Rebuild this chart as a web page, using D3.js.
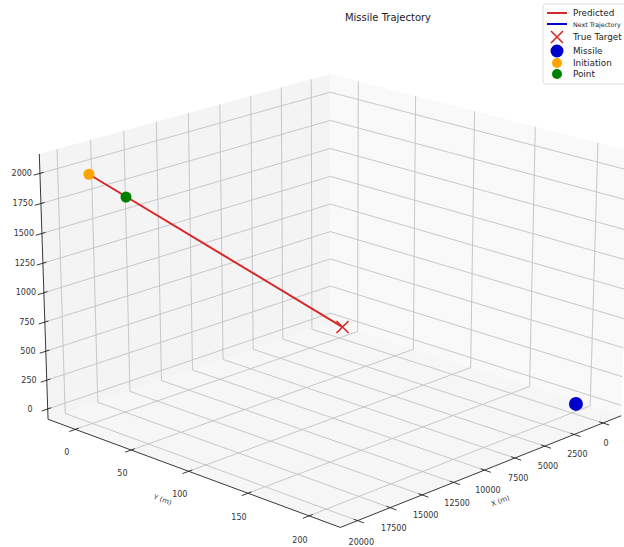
<!DOCTYPE html>
<html>
<head>
<meta charset="UTF-8">
<script src="https://cdn.jsdelivr.net/npm/d3@7"></script>
<style>
  body { margin: 0; background: #ffffff; }
  text { font-family: "DejaVu Sans", sans-serif; }
</style>
</head>
<body>
<div id="container"></div>
<script>
// ---- data ----
const xTicks = [0, 2500, 5000, 7500, 10000, 12500, 15000, 17500, 20000];
const yTicks = [0, 50, 100, 150, 200];
const zTicks = [0, 250, 500, 750, 1000, 1250, 1500, 1750, 2000];

// predicted trajectory (x, y, z)
const predictedX = [20000, 0];
const predictedY = [3, 3];
const predictedZ = [2030, 20];

const targetPos = [0, 3, 20];
const missilePos = [0, 203, 0];
const initiationPos = [20000, 3, 2030];
const pointPos = [17300, 3, 1755];

const legendLabels = ["Predicted", "Next Trajectory", "True Target", "Missile", "Initiation", "Point"];

// ---- 3d view (like matplotlib mplot3d, perspective) ----
const width = 624, height = 547;
const elev = 20.5, azim = 44, dist = 10;
const X0 = -1600, X1 = 21300, Y0 = -25, Y1 = 225, Z0 = -90, Z1 = 2160;

const n = Math.hypot(4, 4, 3);
const box = [4, 4, 3].map(d => d * 1.8294640721620434 / n);
const xs = d3.scaleLinear().domain([X0, X1]).range([0, box[0]]);
const ys = d3.scaleLinear().domain([Y0, Y1]).range([0, box[1]]);
const zs = d3.scaleLinear().domain([Z0, Z1]).range([0, box[2]]);

const e = elev * Math.PI / 180, a = azim * Math.PI / 180;
const w = [Math.cos(e) * Math.cos(a), Math.cos(e) * Math.sin(a), Math.sin(e)];
const u = [-Math.sin(a), Math.cos(a), 0];
const v = [-Math.sin(e) * Math.cos(a), -Math.sin(e) * Math.sin(a), Math.cos(e)];

const sx = d3.scaleLinear().domain([0, 1]).range([335, 335 + 3600]);
const sy = d3.scaleLinear().domain([0, 1]).range([287, 287 - 3300]);

function project([x, y, z]) {
  const p = [xs(x) - box[0] / 2, ys(y) - box[1] / 2, zs(z) - box[2] / 2];
  const dot = q => q[0] * p[0] + q[1] * p[1] + q[2] * p[2];
  const depth = dist - dot(w);
  return [sx(dot(u) / depth), sy(dot(v) / depth)];
}

const line = d3.line().x(d => project(d)[0]).y(d => project(d)[1]);

const svg = d3.select("#container").append("svg")
  .attr("width", width).attr("height", height);

// panes
const panes = [
  { pts: [[X0, Y0, Z0], [X1, Y0, Z0], [X1, Y0, Z1], [X0, Y0, Z1]], fill: "#f4f4f4" },
  { pts: [[X0, Y0, Z0], [X0, Y1, Z0], [X0, Y1, Z1], [X0, Y0, Z1]], fill: "#f9f9f9" },
  { pts: [[X0, Y0, Z0], [X1, Y0, Z0], [X1, Y1, Z0], [X0, Y1, Z0]], fill: "#f6f6f6" }
];
svg.append("g").selectAll("path").data(panes).join("path")
  .attr("d", d => line(d.pts) + "Z")
  .attr("fill", d => d.fill)
  .attr("stroke", "none");

// grid
const grid = svg.append("g").attr("fill", "none").attr("stroke", "#c2c2c2").attr("stroke-width", 0.9);
xTicks.forEach(t => grid.append("path").attr("d", line([[t, Y1, Z0], [t, Y0, Z0], [t, Y0, Z1]])));
yTicks.forEach(t => grid.append("path").attr("d", line([[X1, t, Z0], [X0, t, Z0], [X0, t, Z1]])));
zTicks.forEach(t => grid.append("path").attr("d", line([[X1, Y0, t], [X0, Y0, t], [X0, Y1, t]])));

// axis lines
const axes = svg.append("g").attr("fill", "none").attr("stroke", "#222").attr("stroke-width", 0.9);
axes.append("path").attr("d", line([[X0, Y1, Z0], [X1, Y1, Z0]]));
axes.append("path").attr("d", line([[X1, Y0, Z0], [X1, Y1, Z0]]));
axes.append("path").attr("d", line([[X1, Y0, Z0], [X1, Y0, Z1]]));

const xr = X1 - X0, yr = Y1 - Y0;
// tick marks
xTicks.forEach(t => axes.append("path").attr("d", line([[t, Y1 - 0.012 * yr, Z0], [t, Y1 + 0.02 * yr, Z0]])));
yTicks.forEach(t => axes.append("path").attr("d", line([[X1 - 0.012 * xr, t, Z0], [X1 + 0.02 * xr, t, Z0]])));
zTicks.forEach(t => axes.append("path").attr("d", line([[X1 - 0.012 * xr, Y0, t], [X1 + 0.02 * xr, Y0, t]])));

// tick labels
const labels = svg.append("g").attr("font-size", 8).attr("fill", "#333")
  .attr("text-anchor", "middle").attr("dominant-baseline", "central");
xTicks.forEach(t => {
  const [px, py] = project([t, Y1 + 3, Z0 - 165]);
  labels.append("text").attr("x", px).attr("y", py).text(t);
});
yTicks.forEach(t => {
  const [px, py] = project([X1 + 690, t, Z0 - 170]);
  labels.append("text").attr("x", px).attr("y", py).text(t);
});
zTicks.forEach(t => {
  const [px, py] = project([X1 + 721, Y0 - 7.5, t]);
  labels.append("text").attr("x", px).attr("y", py).text(t);
});

// axis labels
function axisLabel(pos, from, to, txt) {
  const [px, py] = project(pos);
  const p0 = project(from), p1 = project(to);
  let ang = Math.atan2(p1[1] - p0[1], p1[0] - p0[0]) * 180 / Math.PI;
  if (ang > 90) ang -= 180;
  if (ang < -90) ang += 180;
  labels.append("text")
    .attr("transform", `translate(${px},${py}) rotate(${ang})`)
    .attr("font-size", 7).text(txt);
}
axisLabel([10000, Y1 + 13, Z0 - 215], [X0, Y1, Z0], [X1, Y1, Z0], "X (m)");
axisLabel([X1 + 1985, 100, Z0 - 160], [X1, Y0, Z0], [X1, Y1, Z0], "Y (m)");

// predicted trajectory
const predicted = predictedX.map((x, i) => [x, predictedY[i], predictedZ[i]]);
svg.append("path").attr("d", line(predicted))
  .attr("fill", "none").attr("stroke", "#d62728").attr("stroke-width", 2);

// markers
function xMark(g, cx, cy, r) {
  g.append("path")
    .attr("d", `M${cx - r},${cy - r}L${cx + r},${cy + r}M${cx - r},${cy + r}L${cx + r},${cy - r}`)
    .attr("stroke", "#d62728").attr("stroke-width", 1.6).attr("fill", "none");
}
const marks = svg.append("g");
const [tx, ty] = project(targetPos);
xMark(marks, tx, ty, 6);
[[missilePos, "#0000cc", 7], [initiationPos, "orange", 5.5], [pointPos, "green", 5.5]].forEach(([p, c, r]) => {
  const [px, py] = project(p);
  marks.append("circle").attr("cx", px).attr("cy", py).attr("r", r).attr("fill", c);
});

// title
svg.append("text").attr("x", 388).attr("y", 21).attr("text-anchor", "middle")
  .attr("font-size", 10).attr("fill", "#222").text("Missile Trajectory");

// legend
const lg = svg.append("g").attr("transform", "translate(543,4)");
lg.append("rect").attr("x", 0).attr("y", 0).attr("width", 100).attr("height", 80).attr("rx", 3)
  .attr("fill", "#fff").attr("stroke", "#ddd");
const rowY = [9, 20, 33, 47, 59, 70];
const fsz = [8.8, 6.3, 8.8, 8.8, 8.8, 8.8];
legendLabels.forEach((t, i) => {
  const yy = rowY[i];
  if (i === 0 || i === 1) {
    lg.append("line").attr("x1", 4).attr("x2", 24).attr("y1", yy).attr("y2", yy)
      .attr("stroke", i === 0 ? "#d62728" : "#0000cc").attr("stroke-width", 2);
  } else if (i === 2) {
    xMark(lg, 14, yy, 6);
  } else {
    lg.append("circle").attr("cx", 14).attr("cy", yy).attr("r", i === 3 ? 6.5 : 5)
      .attr("fill", ["#0000cc", "orange", "green"][i - 3]);
  }
  lg.append("text").attr("x", 30).attr("y", yy).attr("dominant-baseline", "central")
    .attr("font-size", fsz[i]).attr("fill", "#222").text(t);
});
</script>
</body>
</html>
